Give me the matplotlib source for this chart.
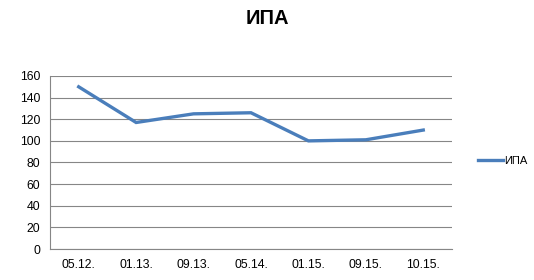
import matplotlib
matplotlib.use('Agg')
import matplotlib.pyplot as plt
from matplotlib.lines import Line2D

categories = ['05.12.', '01.13.', '09.13.', '05.14.', '01.15.', '09.15.', '10.15.']
values = [150, 117, 125, 126, 100, 101, 110]
series_name = 'ИПА'
y_ticks = [0, 20, 40, 60, 80, 100, 120, 140, 160]

plt.rcParams['font.family'] = ['Liberation Sans', 'DejaVu Sans']

fig = plt.figure(figsize=(5.34, 2.8), dpi=100)
ax = fig.add_axes([0.0936, 0.1107, 0.7528, 0.6179])

x = list(range(len(categories)))
ax.plot(x, values, color='#4A7EBB', linewidth=2.4, solid_joinstyle='miter')

ax.set_xlim(-0.5, len(categories) - 0.5)
ax.set_ylim(0, 160)
ax.set_yticks(y_ticks)
ax.set_xticks(x)
ax.set_xticklabels(categories)
ax.tick_params(axis='both', length=0, labelsize=8.8, colors='black')
ax.tick_params(axis='x', pad=7)
ax.tick_params(axis='y', pad=7)
ax.yaxis.grid(True, color='#868686', linewidth=0.8)
ax.set_axisbelow(True)
for side in ['top', 'right']:
    ax.spines[side].set_visible(False)
for side in ['left', 'bottom']:
    ax.spines[side].set_color('#868686')
    ax.spines[side].set_linewidth(0.8)

fig.text(0.5, 0.935, series_name, ha='center', va='center', fontsize=14.5, fontweight='bold')

handle = Line2D([], [], color='#4A7EBB', linewidth=2.4)
fig.legend([handle], [series_name], loc='center left', bbox_to_anchor=(0.885, 0.425),
           frameon=False, fontsize=8, handlelength=2.2, handletextpad=0.15, borderpad=0)

fig.savefig('out.png', dpi=100)
